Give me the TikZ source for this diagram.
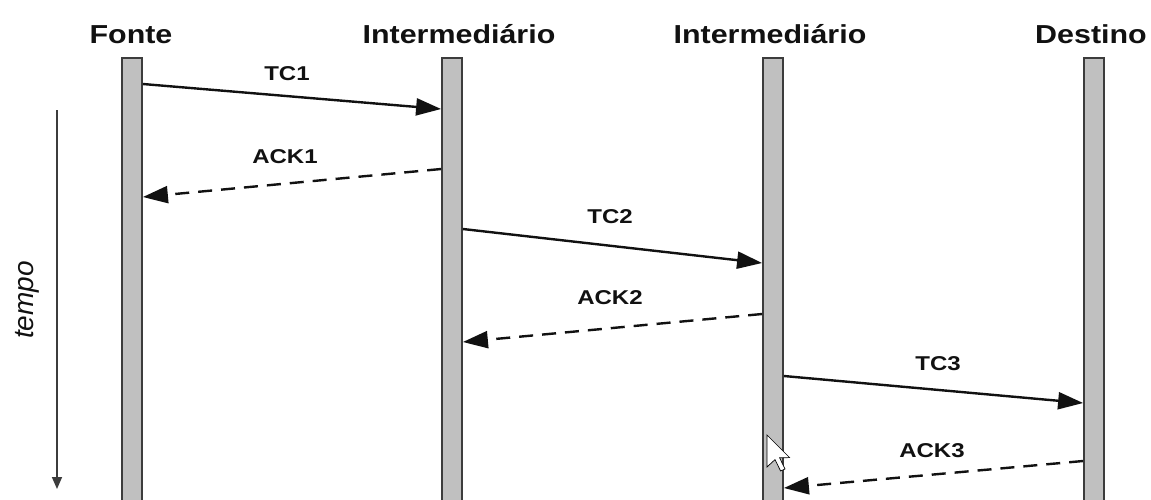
\documentclass[tikz,border=0pt]{standalone}
\usepackage{fontspec}
\setmainfont{Liberation Sans}
\usetikzlibrary{arrows.meta,calc}
\definecolor{barfill}{HTML}{C0C0C0}
\definecolor{barline}{HTML}{3C3C3C}
\definecolor{ink}{HTML}{111111}
\begin{document}
\begin{tikzpicture}[x=1pt,y=-1pt,
  lifeline/.style={draw=barline,fill=barfill,line width=1.8pt,
    minimum width=20pt,minimum height=470pt,inner sep=0pt,anchor=north},
  title/.style={anchor=base,inner sep=0pt,text=ink,
    font=\fontsize{26}{26}\selectfont\bfseries},
  msglabel/.style={inner sep=0pt,text=ink,
    font=\fontsize{20}{20}\selectfont\bfseries},
  msg/.style={draw=ink,line width=2.4pt,
    -{Triangle[length=25pt,width=17pt]}},
  ack/.style={msg,dash pattern=on 14pt off 9pt}]
\useasboundingbox (0,0) rectangle (1151,499);
\clip (0,0) rectangle (1151,499);
\fill[white] (0,0) rectangle (1151,499);

% lifelines
\node[lifeline] (fonte) at (132,57) {};
\node[lifeline] (int1)  at (452,57) {};
\node[lifeline] (int2)  at (773,57) {};
\node[lifeline] (dest)  at (1094,57) {};

% headings
\node[title] (tfonte) at (131,43)  {\scalebox{1.17}[1]{Fonte}};
\node[title] (tint1)  at (459,43)  {\scalebox{1.17}[1]{Intermediário}};
\node[title] (tint2)  at (770,43)  {\scalebox{1.17}[1]{Intermediário}};
\node[title] (tdest)  at (1091,43) {\scalebox{1.17}[1]{Destino}};

% messages
\draw[msg] ($(fonte.north east)+(0,27)$) -- ($(int1.north west)+(0,52)$);
\draw[ack] ($(int1.north west)+(0,112)$) -- ($(fonte.north east)+(0,140)$);
\draw[msg] ($(int1.north east)+(0,172)$) -- ($(int2.north west)+(0,206)$);
\draw[ack] ($(int2.north west)+(0,257)$) -- ($(int1.north east)+(0,285)$);
\draw[msg] ($(int2.north east)+(0,319)$) -- ($(dest.north west)+(0,346)$);
\draw[ack] ($(dest.north west)+(0,404)$) -- ($(int2.north east)+(0,431)$);

\node[msglabel] (ltc1)  at (287,74)  {\scalebox{1.2}[1]{TC1}};
\node[msglabel] (lack1) at (285,157) {\scalebox{1.2}[1]{ACK1}};
\node[msglabel] (ltc2)  at (610,217) {\scalebox{1.2}[1]{TC2}};
\node[msglabel] (lack2) at (610,298) {\scalebox{1.2}[1]{ACK2}};
\node[msglabel] (ltc3)  at (938,364) {\scalebox{1.2}[1]{TC3}};
\node[msglabel] (lack3) at (932,451) {\scalebox{1.2}[1]{ACK3}};

% time axis
\coordinate (tstart) at (57,110);
\coordinate (tend) at (57,489);
\draw[draw=barline,line width=1.6pt,-{Triangle[length=12pt,width=10pt]}] (tstart) -- (tend);
\node[rotate=90,inner sep=0pt,text=ink,font=\fontsize{28}{28}\selectfont\itshape]
  (ltempo) at (27,300) {tempo};

% mouse pointer
\begin{scope}[shift={(767,435)},scale=2]
\draw[fill=white,draw=black,line width=0.7pt,line join=miter]
  (0,0) -- (0,16) -- (4,12.3) -- (6.8,18) -- (9,17) -- (6.3,11.4) -- (11.3,11.3) -- cycle;
\end{scope}
\end{tikzpicture}
\end{document}
